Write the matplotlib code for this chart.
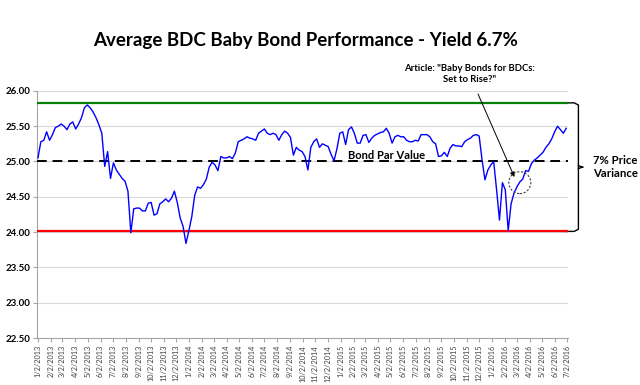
import matplotlib
matplotlib.use("Agg")
import matplotlib.pyplot as plt
import matplotlib.dates as mdates
from matplotlib.patches import Ellipse
import pandas as pd

plt.rcParams['font.family'] = ['Lato', 'DejaVu Sans']

# weekly readings of the average baby bond price
start = '2013-01-02'
prices = [
    25.05, 25.28, 25.30, 25.42, 25.30, 25.38, 25.48, 25.50, 25.53, 25.50,
    25.45, 25.53, 25.56, 25.46, 25.53, 25.62, 25.76, 25.80, 25.76, 25.70,
    25.62, 25.52, 25.40, 24.93, 25.14, 24.76, 24.98, 24.88, 24.82, 24.76,
    24.72, 24.58, 23.99, 24.33, 24.34, 24.34, 24.30, 24.30, 24.41, 24.42,
    24.24, 24.26, 24.40, 24.43, 24.47, 24.43, 24.48, 24.58, 24.42, 24.20,
    24.08, 23.84, 24.02, 24.22, 24.52, 24.64, 24.62, 24.67, 24.75, 24.92,
    24.99, 24.95, 24.87, 25.07, 25.05, 25.05, 25.07, 25.04, 25.12, 25.28,
    25.30, 25.32, 25.35, 25.33, 25.32, 25.30, 25.40, 25.43, 25.46, 25.40,
    25.38, 25.40, 25.38, 25.30, 25.38, 25.43, 25.40, 25.34, 25.09, 25.20,
    25.16, 25.14, 25.07, 24.88, 25.20, 25.28, 25.32, 25.20, 25.25, 25.23,
    25.21, 25.10, 25.01, 25.18, 25.40, 25.42, 25.24, 25.45, 25.49, 25.40,
    25.26, 25.26, 25.37, 25.38, 25.27, 25.33, 25.37, 25.39, 25.41, 25.42,
    25.47, 25.40, 25.26, 25.35, 25.37, 25.35, 25.35, 25.30, 25.28, 25.28,
    25.30, 25.29, 25.38, 25.38, 25.38, 25.35, 25.28, 25.25, 25.07, 25.08,
    25.13, 25.07, 25.19, 25.24, 25.22, 25.22, 25.21, 25.28, 25.31, 25.33,
    25.37, 25.38, 25.36, 25.02, 24.74, 24.88, 24.95, 25.00, 24.60, 24.17,
    24.70, 24.60, 24.02, 24.40, 24.55, 24.64, 24.71, 24.75, 24.87, 24.86,
    24.97, 25.02, 25.05, 25.09, 25.13, 25.20, 25.25, 25.32, 25.42, 25.50,
    25.45, 25.40, 25.47,
]
dates = pd.date_range(start, periods=len(prices), freq='7D')

high_price = 25.83
low_price = 24.01
par_value = 25.00
tick_dates = pd.date_range('2013-01-01', '2016-07-01', freq='MS') + pd.Timedelta(days=1)
y_ticks = [22.5, 23.0, 23.5, 24.0, 24.5, 25.0, 25.5, 26.0]

fig = plt.figure(figsize=(6.4, 3.85), dpi=100)
ax = fig.add_axes([0.058, 0.122, 0.83, 0.642])

ax.plot(dates, prices, color='#0000ff', lw=1.0, zorder=4)
ax.axhline(high_price, color='#008000', lw=1.6, zorder=3)
ax.axhline(low_price, color='#ff0000', lw=1.6, zorder=3)
ax.axhline(par_value, color='black', lw=1.4, dashes=(5, 3), zorder=3)

ax.set_xlim(pd.Timestamp('2012-12-31'), pd.Timestamp('2016-07-04'))
ax.set_ylim(22.5, 26.0)
ax.set_yticks(y_ticks)
ax.set_yticklabels(['%.2f' % v for v in y_ticks], fontsize=7, fontweight='bold')
ax.set_xticks(tick_dates)
ax.set_xticklabels(['%d/%d/%d' % (d.month, d.day, d.year) for d in tick_dates],
                   rotation=90, fontsize=5.3, color='#404040')
ax.grid(axis='y', color='#d9d9d9', lw=0.8)
ax.set_axisbelow(True)
for s in ['top', 'right']:
    ax.spines[s].set_visible(False)
for s in ['left', 'bottom']:
    ax.spines[s].set_color('#a6a6a6')
ax.tick_params(axis='both', length=3, color='#a6a6a6', pad=2)

fig.text(0.477, 0.895, 'Average BDC Baby Bond Performance - Yield 6.7%',
         ha='center', va='center', fontsize=13.5, fontweight='bold')

ax.text(pd.Timestamp('2015-04-22'), 25.08, 'Bond Par Value', ha='center',
        va='center', fontsize=8, fontweight='bold', zorder=5)

# article annotation
ax.annotate('Article: "Baby Bonds for BDCs:\nSet to Rise?"',
            xy=(pd.Timestamp('2016-02-25'), 24.78),
            xytext=(pd.Timestamp('2015-11-08'), 26.24),
            ha='center', va='center', fontsize=6.8, fontweight='bold',
            annotation_clip=False,
            arrowprops=dict(arrowstyle='-|>', color='black', lw=0.7,
                            mutation_scale=7, shrinkA=6, shrinkB=0))
circ = Ellipse((mdates.date2num(pd.Timestamp('2016-03-09')), 24.70),
               width=53, height=0.31, fill=False, ls=(0, (2, 1.5)),
               color='#404040', lw=0.8, zorder=5)
ax.add_patch(circ)

# bracket for price variance
tr = ax.get_yaxis_transform()
bx = 1.019
ax.plot([bx - 0.03, bx - 0.008, bx, bx, bx - 0.008, bx - 0.03],
        [high_price, high_price, high_price - 0.03, low_price + 0.03, low_price, low_price],
        transform=tr, color='black', lw=1.0, clip_on=False)
mid = (high_price + low_price) / 2
ax.plot([bx, bx + 0.008], [mid + 0.02, mid], transform=tr, color='black', lw=1.0, clip_on=False)
ax.plot([bx, bx + 0.008], [mid - 0.02, mid], transform=tr, color='black', lw=1.0, clip_on=False)
ax.text(1.047, mid, '7% Price\nVariance', transform=tr, ha='left', va='center',
        fontsize=8.2, fontweight='bold', linespacing=1.3)

fig.savefig('out.png', dpi=100)
